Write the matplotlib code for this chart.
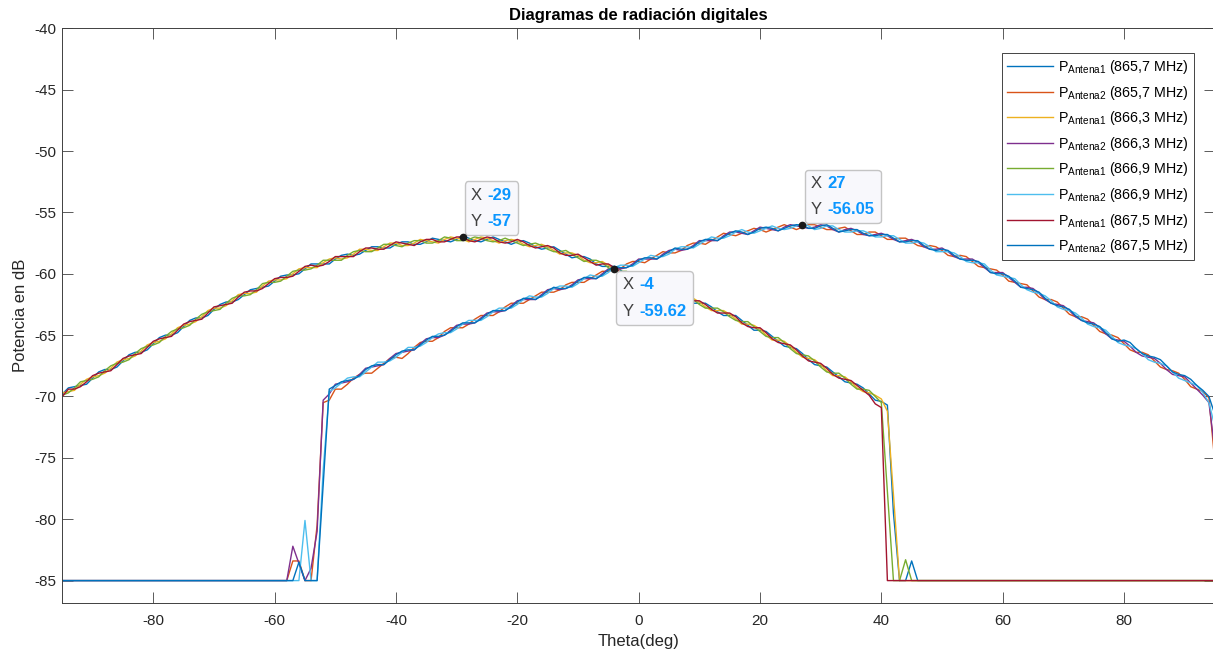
import numpy as np
import matplotlib
matplotlib.use('Agg')
import matplotlib.pyplot as plt
from matplotlib.offsetbox import TextArea, HPacker, VPacker, AnnotationBbox

plt.rcParams['font.family'] = ['Liberation Sans', 'DejaVu Sans']
plt.rcParams['mathtext.fontset'] = 'custom'
plt.rcParams['mathtext.rm'] = 'Liberation Sans'
plt.rcParams['axes.unicode_minus'] = False

theta = np.arange(-95, 96)

# Antena1 curves (theta -95..95, 1 deg step)
a1_8657 = [
    -69.8, -69.3, -69.2, -69.1, -69.0,
    -68.5, -68.0, -67.8, -67.8, -67.6,
    -67.1, -66.6, -66.4, -66.4, -66.2,
    -65.7, -65.2, -65.0, -65.0, -64.8,
    -64.3, -63.8, -63.6, -63.6, -63.4,
    -62.9, -62.5, -62.3, -62.3, -62.1,
    -61.7, -61.3, -61.2, -61.1, -61.0,
    -60.6, -60.2, -60.1, -60.1, -60.0,
    -59.6, -59.2, -59.2, -59.2, -59.2,
    -58.8, -58.5, -58.4, -58.5, -58.4,
    -58.1, -57.8, -57.8, -57.9, -57.9,
    -57.6, -57.4, -57.4, -57.6, -57.6,
    -57.4, -57.1, -57.2, -57.3, -57.4,
    -57.2, -56.9, -57.1, -57.3, -57.4,
    -57.2, -57.0, -57.2, -57.4, -57.6,
    -57.4, -57.3, -57.5, -57.8, -58.0,
    -57.9, -57.8, -58.1, -58.4, -58.7,
    -58.6, -58.6, -58.8, -59.2, -59.4,
    -59.4, -59.4, -59.7, -60.1, -60.4,
    -60.4, -60.4, -60.7, -61.1, -61.4,
    -61.4, -61.4, -61.7, -62.1, -62.4,
    -62.4, -62.4, -62.7, -63.1, -63.4,
    -63.4, -63.4, -63.8, -64.2, -64.6,
    -64.6, -64.7, -65.1, -65.5, -65.9,
    -66.0, -66.1, -66.5, -67.0, -67.4,
    -67.5, -67.6, -68.0, -68.4, -68.8,
    -68.9, -69.0, -69.3, -69.8, -70.3,
    -70.4, -70.7, -79.5, -85.0, -85.0, -83.4, -85.0,
] + [-85.0] * 49

a1_8663 = [
    -69.7, -69.6, -69.5, -69.0, -68.6,
    -68.4, -68.3, -68.1, -67.7, -67.2,
    -67.0, -66.9, -66.7, -66.3, -65.8,
    -65.6, -65.5, -65.3, -64.9, -64.4,
    -64.2, -64.1, -63.9, -63.5, -63.0,
    -62.8, -62.8, -62.6, -62.2, -61.7,
    -61.6, -61.6, -61.5, -61.0, -60.6,
    -60.5, -60.5, -60.4, -60.0, -59.6,
    -59.5, -59.5, -59.5, -59.1, -58.8,
    -58.7, -58.8, -58.7, -58.4, -58.0,
    -58.0, -58.1, -58.1, -57.8, -57.5,
    -57.5, -57.7, -57.7, -57.5, -57.2,
    -57.3, -57.4, -57.5, -57.2, -57.0,
    -57.1, -57.2, -57.4, -57.2, -57.0,
    -57.1, -57.3, -57.5, -57.3, -57.2,
    -57.3, -57.6, -57.8, -57.7, -57.6,
    -57.8, -58.1, -58.4, -58.3, -58.3,
    -58.5, -58.9, -59.1, -59.1, -59.0,
    -59.3, -59.7, -60.0, -60.0, -60.0,
    -60.3, -60.7, -61.0, -61.0, -61.0,
    -61.3, -61.7, -62.0, -62.0, -62.0,
    -62.3, -62.7, -63.0, -63.0, -63.0,
    -63.3, -63.7, -64.1, -64.1, -64.2,
    -64.5, -65.0, -65.4, -65.4, -65.5,
    -65.9, -66.4, -66.8, -66.9, -67.0,
    -67.4, -67.9, -68.3, -68.3, -68.4,
    -68.8, -69.3, -69.6, -69.7, -69.9,
    -70.2, -71.2, -78.0,
] + [-85.0] * 53

a1_8669 = [
    -69.9, -69.7, -69.3, -68.8, -68.7,
    -68.6, -68.4, -67.9, -67.5, -67.3,
    -67.2, -67.0, -66.5, -66.1, -65.9,
    -65.8, -65.6, -65.1, -64.7, -64.5,
    -64.4, -64.2, -63.7, -63.3, -63.1,
    -63.0, -62.9, -62.4, -62.0, -61.8,
    -61.8, -61.7, -61.3, -60.8, -60.7,
    -60.7, -60.6, -60.2, -59.8, -59.7,
    -59.7, -59.6, -59.3, -58.9, -58.9,
    -58.9, -58.9, -58.5, -58.2, -58.1,
    -58.2, -58.2, -57.9, -57.6, -57.6,
    -57.7, -57.8, -57.5, -57.3, -57.3,
    -57.5, -57.5, -57.3, -57.0, -57.1,
    -57.3, -57.3, -57.2, -57.0, -57.1,
    -57.3, -57.4, -57.3, -57.1, -57.3,
    -57.5, -57.7, -57.6, -57.5, -57.7,
    -58.0, -58.2, -58.2, -58.1, -58.4,
    -58.7, -59.0, -58.9, -58.9, -59.1,
    -59.5, -59.8, -59.8, -59.8, -60.1,
    -60.5, -60.8, -60.8, -60.8, -61.1,
    -61.5, -61.8, -61.8, -61.8, -62.1,
    -62.5, -62.8, -62.8, -62.8, -63.1,
    -63.5, -63.8, -63.9, -63.9, -64.3,
    -64.7, -65.1, -65.2, -65.2, -65.6,
    -66.1, -66.5, -66.6, -66.7, -67.1,
    -67.6, -68.0, -68.1, -68.1, -68.5,
    -69.0, -69.4, -69.4, -69.5, -70.0,
    -70.5, -77.8, -85.0, -85.0, -83.3, -85.0,
] + [-85.0] * 50

a1_8675 = [
    -70.0, -69.4, -69.4, -69.2, -68.8,
    -68.3, -68.1, -68.0, -67.9, -67.4,
    -66.9, -66.7, -66.6, -66.5, -66.0,
    -65.5, -65.3, -65.2, -65.1, -64.6,
    -64.1, -63.9, -63.8, -63.7, -63.2,
    -62.7, -62.6, -62.5, -62.4, -61.9,
    -61.5, -61.4, -61.4, -61.2, -60.8,
    -60.4, -60.3, -60.3, -60.2, -59.8,
    -59.4, -59.3, -59.4, -59.3, -59.0,
    -58.6, -58.6, -58.6, -58.6, -58.2,
    -57.9, -57.9, -58.0, -58.0, -57.7,
    -57.4, -57.5, -57.6, -57.7, -57.4,
    -57.2, -57.2, -57.4, -57.4, -57.2,
    -57.0, -57.0, -57.3, -57.4, -57.2,
    -57.0, -57.1, -57.4, -57.5, -57.4,
    -57.2, -57.4, -57.7, -57.9, -57.8,
    -57.7, -57.9, -58.3, -58.5, -58.5,
    -58.4, -58.7, -59.0, -59.3, -59.2,
    -59.2, -59.5, -59.9, -60.2, -60.2,
    -60.2, -60.5, -60.9, -61.2, -61.2,
    -61.2, -61.5, -61.9, -62.2, -62.2,
    -62.2, -62.5, -62.9, -63.2, -63.2,
    -63.2, -63.5, -64.0, -64.3, -64.4,
    -64.4, -64.8, -65.3, -65.6, -65.7,
    -65.8, -66.2, -66.7, -67.1, -67.2,
    -67.3, -67.7, -68.2, -68.5, -68.6,
    -68.7, -69.1, -69.5, -69.9, -70.6,
    -70.9,
] + [-85.0] * 55

# Antena2 curves
a2_8657 = [-85.0] * 37 + [
    -85.0, -83.4, -83.4, -85.0, -85.0, -80.5, -70.5, -70.3,
    -69.4, -69.4, -69.0, -68.5, -68.2,
    -68.1, -68.1, -67.7, -67.3, -66.9,
    -66.8, -66.9, -66.5, -66.0, -65.6,
    -65.5, -65.5, -65.2, -64.7, -64.4,
    -64.4, -64.4, -64.1, -63.7, -63.4,
    -63.4, -63.4, -63.1, -62.7, -62.4,
    -62.4, -62.4, -62.1, -61.8, -61.5,
    -61.5, -61.5, -61.3, -60.9, -60.7,
    -60.7, -60.7, -60.4, -60.1, -59.8,
    -59.8, -59.62, -59.6, -59.2, -59.0,
    -59.0, -59.1, -58.8, -58.5, -58.2,
    -58.3, -58.3, -58.1, -57.7, -57.5,
    -57.5, -57.6, -57.3, -57.0, -56.7,
    -56.8, -56.9, -56.7, -56.5, -56.3,
    -56.4, -56.6, -56.4, -56.2, -56.0,
    -56.2, -56.4, -56.2, -56.0, -56.0,
    -56.2, -56.4, -56.4, -56.3, -56.2,
    -56.5, -56.8, -56.8, -56.6, -56.6,
    -56.9, -57.2, -57.2, -57.1, -57.1,
    -57.4, -57.7, -57.8, -57.7, -57.8,
    -58.1, -58.5, -58.6, -58.5, -58.6,
    -59.0, -59.4, -59.5, -59.6, -59.7,
    -60.1, -60.6, -60.7, -60.8, -60.9,
    -61.4, -61.9, -62.1, -62.1, -62.3,
    -62.8, -63.3, -63.5, -63.5, -63.7,
    -64.2, -64.7, -64.9, -65.0, -65.2,
    -65.7, -66.2, -66.4, -66.4, -66.6,
    -67.1, -67.6, -67.8, -67.9, -68.1,
    -68.6, -69.2, -69.4, -69.6, -70.1,
    -75.5,
]

a2_8663 = [-85.0] * 37 + [
    -85.0, -82.2, -83.6, -85.0, -84.0, -81.0, -70.3, -69.8,
    -69.0, -68.9, -68.8, -68.6, -68.2,
    -67.7, -67.6, -67.5, -67.4, -66.9,
    -66.5, -66.4, -66.3, -66.2, -65.7,
    -65.3, -65.2, -65.2, -65.0, -64.6,
    -64.2, -64.1, -64.1, -64.0, -63.6,
    -63.2, -63.1, -63.1, -63.0, -62.6,
    -62.2, -62.1, -62.1, -62.1, -61.7,
    -61.3, -61.2, -61.3, -61.2, -60.9,
    -60.5, -60.4, -60.4, -60.4, -60.0,
    -59.6, -59.5, -59.6, -59.5, -59.2,
    -58.8, -58.8, -58.8, -58.8, -58.4,
    -58.1, -58.0, -58.1, -58.0, -57.7,
    -57.3, -57.3, -57.3, -57.3, -56.9,
    -56.6, -56.6, -56.7, -56.8, -56.5,
    -56.2, -56.3, -56.4, -56.5, -56.2,
    -56.0, -56.1, -56.2, -56.3, -56.2,
    -56.0, -56.1, -56.4, -56.6, -56.4,
    -56.3, -56.5, -56.8, -56.9, -56.8,
    -56.7, -56.9, -57.2, -57.4, -57.3,
    -57.2, -57.4, -57.8, -58.0, -58.0,
    -57.9, -58.2, -58.6, -58.8, -58.8,
    -58.8, -59.1, -59.5, -59.9, -59.9,
    -59.9, -60.3, -60.7, -61.1, -61.1,
    -61.2, -61.6, -62.1, -62.4, -62.5,
    -62.6, -63.0, -63.5, -63.8, -63.9,
    -64.0, -64.4, -64.9, -65.3, -65.4,
    -65.5, -65.9, -66.4, -66.7, -66.8,
    -66.9, -67.3, -67.8, -68.2, -68.3,
    -68.4, -68.9, -69.4, -69.9, -70.5,
    -74.5,
]

a2_8669 = [-85.0] * 37 + [
    -85.0, -85.0, -85.0, -80.1, -85.0, -85.0, -76.0, -69.6,
    -69.3, -68.9, -68.5, -68.4, -68.4,
    -68.0, -67.6, -67.2, -67.2, -67.1,
    -66.8, -66.4, -66.0, -66.0, -65.9,
    -65.6, -65.2, -64.9, -64.8, -64.8,
    -64.5, -64.1, -63.8, -63.8, -63.8,
    -63.5, -63.1, -62.8, -62.8, -62.8,
    -62.5, -62.1, -61.8, -61.9, -61.9,
    -61.6, -61.2, -61.0, -61.0, -61.1,
    -60.8, -60.4, -60.1, -60.2, -60.2,
    -59.9, -59.5, -59.3, -59.3, -59.4,
    -59.1, -58.8, -58.5, -58.6, -58.6,
    -58.4, -58.0, -57.8, -57.8, -57.9,
    -57.6, -57.3, -57.0, -57.1, -57.1,
    -56.9, -56.6, -56.4, -56.6, -56.7,
    -56.5, -56.3, -56.1, -56.3, -56.4,
    -56.3, -56.1, -55.9, -56.1, -56.4,
    -56.3, -56.1, -56.1, -56.4, -56.6,
    -56.6, -56.5, -56.5, -56.7, -57.0,
    -57.0, -56.9, -56.9, -57.2, -57.5,
    -57.5, -57.4, -57.5, -57.8, -58.2,
    -58.2, -58.2, -58.3, -58.6, -59.0,
    -59.1, -59.1, -59.2, -59.7, -60.1,
    -60.2, -60.3, -60.4, -60.9, -61.3,
    -61.5, -61.6, -61.8, -62.2, -62.7,
    -62.9, -63.0, -63.2, -63.6, -64.1,
    -64.3, -64.4, -64.6, -65.1, -65.6,
    -65.8, -65.9, -66.1, -66.5, -67.0,
    -67.2, -67.3, -67.5, -68.0, -68.5,
    -68.7, -68.9, -69.1, -69.7, -70.5,
    -72.5,
]

a2_8675 = [-85.0] * 37 + [
    -85.0, -85.0, -83.5, -85.0, -85.0, -85.0, -77.2, -69.4,
    -69.1, -68.8, -68.7, -68.6, -68.3,
    -67.8, -67.5, -67.4, -67.4, -67.0,
    -66.6, -66.3, -66.2, -66.2, -65.8,
    -65.4, -65.1, -65.1, -65.0, -64.7,
    -64.3, -64.0, -64.0, -64.0, -63.7,
    -63.3, -63.0, -63.0, -63.0, -62.7,
    -62.3, -62.0, -62.0, -62.1, -61.8,
    -61.4, -61.1, -61.2, -61.2, -61.0,
    -60.6, -60.3, -60.3, -60.4, -60.1,
    -59.7, -59.4, -59.5, -59.5, -59.3,
    -58.9, -58.7, -58.7, -58.8, -58.5,
    -58.2, -57.9, -58.0, -58.0, -57.8,
    -57.4, -57.2, -57.2, -57.3, -57.0,
    -56.7, -56.5, -56.6, -56.8, -56.6,
    -56.3, -56.2, -56.3, -56.5, -56.3,
    -56.1, -56.0, -56.05, -56.3, -56.3,
    -56.1, -56.0, -56.3, -56.6, -56.5,
    -56.4, -56.4, -56.7, -56.9, -56.9,
    -56.8, -56.8, -57.1, -57.4, -57.4,
    -57.3, -57.3, -57.7, -58.0, -58.1,
    -58.0, -58.1, -58.5, -58.8, -58.9,
    -58.9, -59.0, -59.4, -59.9, -60.0,
    -60.0, -60.2, -60.6, -61.1, -61.2,
    -61.3, -61.5, -62.0, -62.4, -62.6,
    -62.7, -62.9, -63.4, -63.8, -64.0,
    -64.1, -64.3, -64.8, -65.3, -65.5,
    -65.4, -65.6, -66.1, -66.5, -66.7,
    -66.8, -67.0, -67.5, -68.0, -68.2,
    -68.3, -68.6, -69.1, -69.5, -70.0,
    -71.5,
]

series = [
    (a1_8657, '#0072BD', r'P$_{\mathregular{Antena1}}$ (865,7 MHz)'),
    (a2_8657, '#D95319', r'P$_{\mathregular{Antena2}}$ (865,7 MHz)'),
    (a1_8663, '#EDB120', r'P$_{\mathregular{Antena1}}$ (866,3 MHz)'),
    (a2_8663, '#7E2F8E', r'P$_{\mathregular{Antena2}}$ (866,3 MHz)'),
    (a1_8669, '#77AC30', r'P$_{\mathregular{Antena1}}$ (866,9 MHz)'),
    (a2_8669, '#4DBEEE', r'P$_{\mathregular{Antena2}}$ (866,9 MHz)'),
    (a1_8675, '#A2142F', r'P$_{\mathregular{Antena1}}$ (867,5 MHz)'),
    (a2_8675, '#0072BD', r'P$_{\mathregular{Antena2}}$ (867,5 MHz)'),
]

# data tips: x, y, text shown for y, where the box sits
tips = [(-29, -57.0, '-57', 'above'), (-4, -59.62, '-59.62', 'below'), (27, -56.05, '-56.05', 'above')]

fig = plt.figure(figsize=(12.13, 6.55), dpi=100)
ax = fig.add_axes([62.3 / 1213, 1 - 603.3 / 655, (1215 - 62.3) / 1213, (603.3 - 28.3) / 655])

for vals, col, lab in series:
    ax.plot(theta, vals, color=col, lw=1.0, label=lab)

ax.set_xlim(-95, 95)
ax.set_ylim(-86.85, -40)
ax.set_xticks(np.arange(-80, 81, 20))
ax.set_yticks(np.arange(-85, -39, 5))
ax.tick_params(direction='in', length=8, width=0.6, top=True, right=True,
               colors='#404040', labelcolor='#262626', labelsize=11)
ax.tick_params(axis='x', pad=8)
ax.tick_params(axis='y', pad=4)
for sp in ax.spines.values():
    sp.set_color('#404040')
    sp.set_linewidth(0.7)

ax.set_title('Diagramas de radiación digitales', fontsize=12, fontweight='bold', color='#000000', pad=6)
ax.set_xlabel('Theta(deg)', fontsize=12, color='#262626', labelpad=4)
ax.set_ylabel('Potencia en dB', fontsize=12, color='#262626', labelpad=5)

for x, y, ytxt, where in tips:
    rows = []
    for name, val in (('X', f'{x:g}'), ('Y', ytxt)):
        rows.append(HPacker(children=[
            TextArea(name, textprops=dict(color='#404040', fontsize=12)),
            TextArea(val, textprops=dict(color='#0A96FF', fontsize=12, fontweight='bold'))],
            pad=0, sep=4, align='baseline'))
    box = VPacker(children=rows, pad=0, sep=8, align='left')
    if where == 'above':
        align, off = (0, 0), (6, 6)
    else:
        align, off = (0, 1), (6, -6)
    ab = AnnotationBbox(box, (x, y), xybox=off, xycoords='data', boxcoords='offset points',
                        box_alignment=align, frameon=True, fontsize=10,
                        bboxprops=dict(boxstyle='round,pad=0.45,rounding_size=0.25',
                                       fc='#F8F8FC', ec='#C4C4C4', lw=1.0))
    ab.set_zorder(5)
    ax.add_artist(ab)
    ax.plot(x, y, 'o', color='#1a1a1a', ms=4.5, zorder=6)

leg = ax.legend(loc='upper right', bbox_to_anchor=(0.9818, 0.957), borderaxespad=0, fontsize=10.3,
                handlelength=3.2, labelspacing=0.53, borderpad=0.35, handletextpad=0.35,
                fancybox=False, framealpha=1, edgecolor='#262626')
leg.get_frame().set_linewidth(0.6)
leg.set_zorder(10)

fig.savefig('out.png', dpi=100)
